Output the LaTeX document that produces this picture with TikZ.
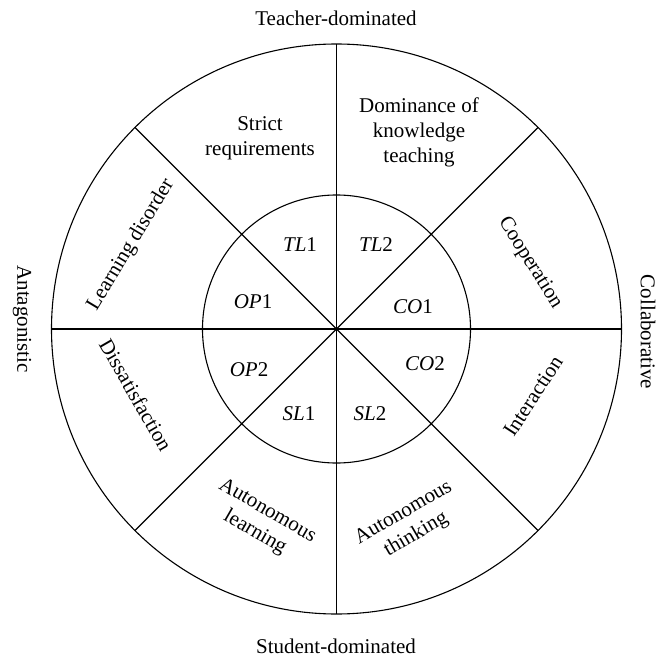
\documentclass[tikz,border=0pt]{standalone}
\usepackage{fontspec}
\setmainfont{Liberation Serif}
\begin{document}
\begin{tikzpicture}[x=1pt,y=-1pt,
  ring/.style={line width=1.1pt},
  lbl/.style={font=\fontsize{21}{25}\selectfont, align=center, inner sep=0pt},
  code/.style={font=\fontsize{21}{25}\selectfont, inner sep=0pt}]
  \useasboundingbox (0,0) rectangle (657,658);
  \coordinate (c) at (336.5,329);
  % outer and inner rings
  \draw[ring] (c) circle[radius=285pt];
  \draw[ring] (c) circle[radius=134pt];
  % four diameters splitting the wheel into eight sectors
  \foreach \a in {0,45,90,135}
    \draw[ring] (c) ++(\a:285pt) -- ++(\a+180:570pt);
  % axis labels
  \node[lbl] (top) at (336,18) {Teacher-dominated};
  \node[lbl] (bot) at (336,646) {Student-dominated};
  \node[lbl, rotate=-90] (left) at (22,319) {Antagonistic};
  \node[lbl, rotate=-90] (right) at (648,332) {Collaborative};
  % outer sector labels
  \node[lbl] (sr) at (260,138) {Strict\\requirements};
  \node[lbl] (dk) at (419,132) {Dominance of\\knowledge\\teaching};
  \node[lbl, rotate=-58] (coop) at (530,263) {Cooperation};
  \node[lbl, rotate=57] (inter) at (533,396) {Interaction};
  \node[lbl, rotate=30] (at) at (410,524) {Autonomous\\thinking};
  \node[lbl, rotate=-30] (al) at (261,522) {Autonomous\\learning};
  \node[lbl, rotate=-60] (dis) at (136,395) {Dissatisfaction};
  \node[lbl, rotate=59] (ld) at (131,245) {Learning disorder};
  % inner sector codes
  \node[code] (tl1) at (300,245) {\textit{TL}1};
  \node[code] (tl2) at (376,245) {\textit{TL}2};
  \node[code] (co1) at (413,307) {\textit{CO}1};
  \node[code] (co2) at (425,364) {\textit{CO}2};
  \node[code] (sl2) at (370,414) {\textit{SL}2};
  \node[code] (sl1) at (299,414) {\textit{SL}1};
  \node[code] (op2) at (249,370) {\textit{OP}2};
  \node[code] (op1) at (253,302) {\textit{OP}1};
\end{tikzpicture}
\end{document}
